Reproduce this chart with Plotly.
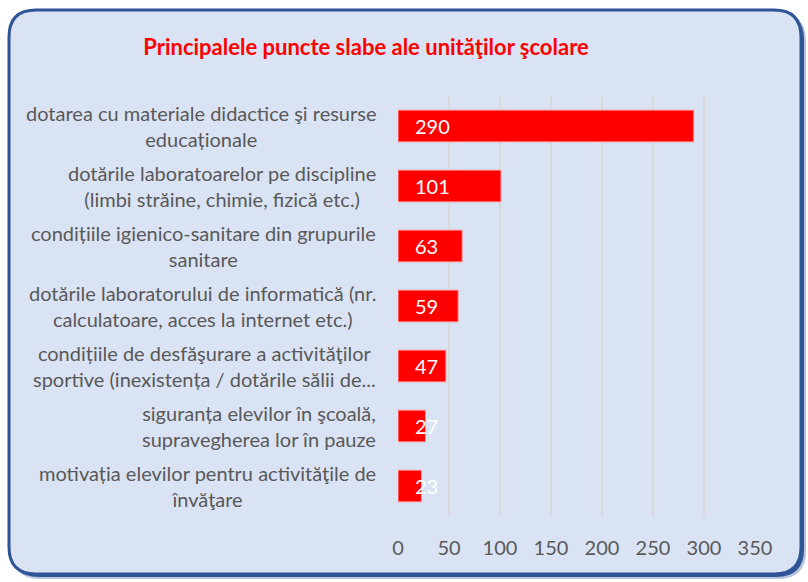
import plotly.graph_objects as go

# Data
categories = [
    "dotarea cu materiale didactice şi resurse<br>educaționale",
    "dotările laboratoarelor pe discipline<br>(limbi străine, chimie, fizică etc.)",
    "condițiile igienico-sanitare din grupurile<br>sanitare",
    "dotările laboratorului de informatică (nr.<br>calculatoare, acces la internet etc.)",
    "condițiile de desfăşurare a activităţilor<br>sportive (inexistența / dotările sălii de...",
    "siguranța elevilor în şcoală,<br>supravegherea lor în pauze",
    "motivația elevilor pentru activităţile de<br>învăţare",
]
values = [290, 101, 63, 59, 47, 27, 23]
x_ticks = [0, 50, 100, 150, 200, 250, 300, 350]

title_text = "Principalele puncte slabe ale unităţilor şcolare"

W, H = 808, 582
L, R, T, B = 398, 53, 96, 66
PW, PH = W - L - R, H - T - B

FONT = "Lato, 'Open Sans', sans-serif"
GREY = "#595959"


def px(xp):
    return (xp - L) / PW


def py(yp):
    return (H - B - yp) / PH


def rounded_rect(x0, y0, x1, y1, r):
    # rounded rectangle path in paper coordinates (pixel inputs)
    pts = [
        f"M {px(x0 + r)} {py(y0)}",
        f"L {px(x1 - r)} {py(y0)}",
        f"Q {px(x1)} {py(y0)} {px(x1)} {py(y0 + r)}",
        f"L {px(x1)} {py(y1 - r)}",
        f"Q {px(x1)} {py(y1)} {px(x1 - r)} {py(y1)}",
        f"L {px(x0 + r)} {py(y1)}",
        f"Q {px(x0)} {py(y1)} {px(x0)} {py(y1 - r)}",
        f"L {px(x0)} {py(y0 + r)}",
        f"Q {px(x0)} {py(y0)} {px(x0 + r)} {py(y0)}",
        "Z",
    ]
    return " ".join(pts)


fig = go.Figure()

fig.add_trace(
    go.Bar(
        y=categories,
        x=values,
        orientation="h",
        marker=dict(color="#FF0000", line=dict(color="#F4A6A6", width=1)),
        textposition="none",
        hoverinfo="x+y",
    )
)

shapes = [
    # soft shadow behind the frame
    dict(type="path", xref="paper", yref="paper", layer="below",
         path=rounded_rect(12, 13, 806, 579, 28),
         fillcolor="rgba(47,85,151,0.35)", line=dict(width=0)),
    dict(type="path", xref="paper", yref="paper", layer="below",
         path=rounded_rect(11, 12, 804, 577, 28),
         fillcolor="#2F5597", line=dict(width=0)),
    # main frame
    dict(type="path", xref="paper", yref="paper", layer="below",
         path=rounded_rect(9, 10, 801, 574, 27),
         fillcolor="#DAE3F3", line=dict(color="#2F5597", width=3)),
]

annotations = []
# category labels, lines centred, block right-aligned against the plot
for cat in categories:
    annotations.append(dict(
        x=0, y=cat, xref="x", yref="y", text=cat, showarrow=False,
        xanchor="right", yanchor="middle", align="center", xshift=-20,
        font=dict(family=FONT, size=20, color=GREY),
    ))
# value labels inside the bars
for cat, v in zip(categories, values):
    annotations.append(dict(
        x=0, y=cat, xref="x", yref="y", text=str(v), showarrow=False,
        xanchor="left", yanchor="middle", xshift=15,
        font=dict(family=FONT, size=20, color="white"),
    ))

fig.update_layout(
    width=W, height=H,
    margin=dict(l=L, r=R, t=T, b=B, pad=0),
    paper_bgcolor="white",
    plot_bgcolor="rgba(0,0,0,0)",
    showlegend=False,
    bargap=0.47,
    title=dict(
        text=f"<b>{title_text}</b>",
        x=366 / W, xref="container", xanchor="center",
        y=1 - 47 / H, yref="container", yanchor="middle",
        font=dict(family=FONT, size=22, color="#FF0000"),
    ),
    xaxis=dict(
        range=[0, 350], tickvals=x_ticks, ticktext=[str(t) for t in x_ticks],
        showgrid=True, gridcolor="#D9D9D9", gridwidth=1.5,
        zeroline=False, showline=False,
        ticks="outside", ticklen=14, tickcolor="rgba(0,0,0,0)",
        tickfont=dict(family=FONT, size=20, color=GREY),
        fixedrange=True,
    ),
    yaxis=dict(
        autorange="reversed", showticklabels=False, showgrid=False,
        zeroline=False, showline=False, ticks="", fixedrange=True,
    ),
    shapes=shapes,
    annotations=annotations,
)

fig.write_html("out.html")
